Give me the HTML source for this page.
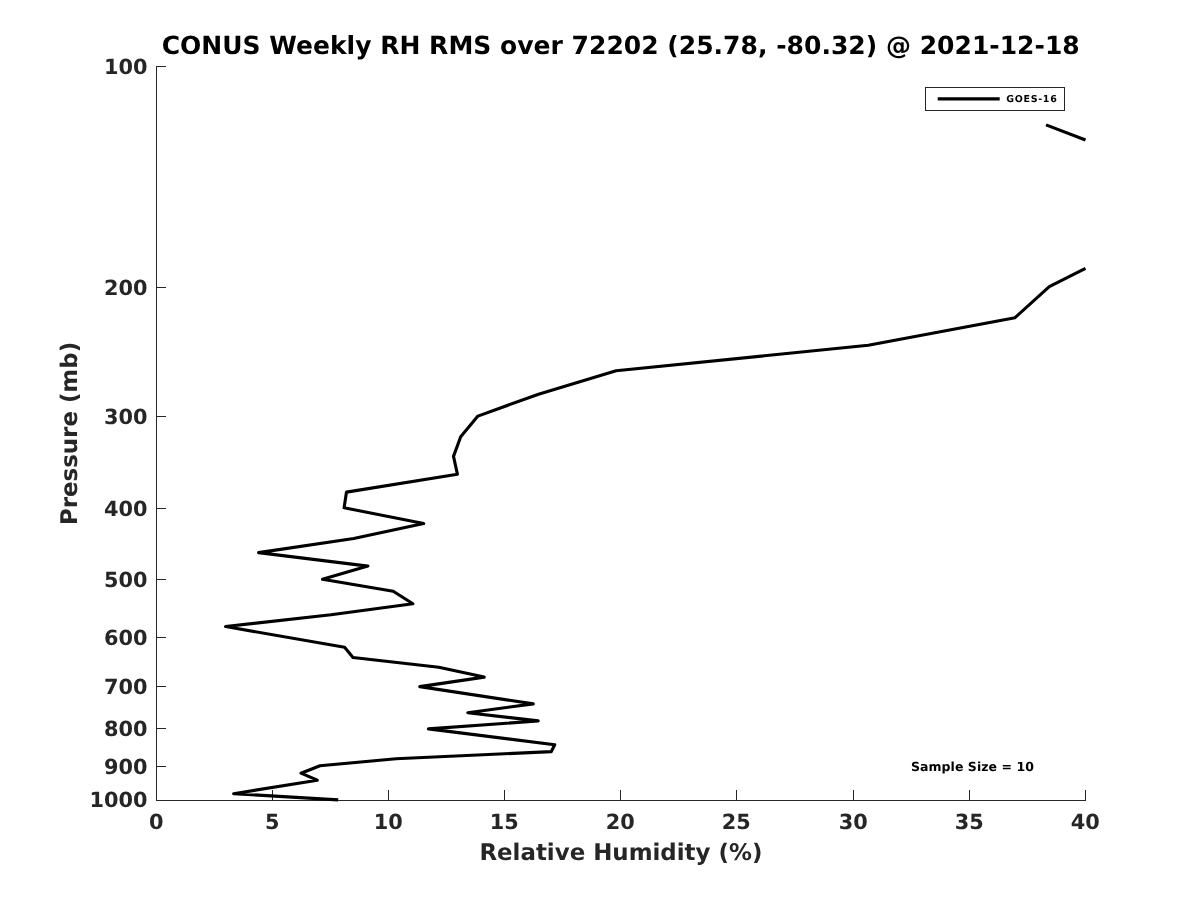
<!DOCTYPE html>
<html lang="en"><head><meta charset="utf-8"><title>CONUS Weekly RH RMS</title>
<style>
html,body{margin:0;padding:0;background:#fff;}
body{width:1200px;height:900px;overflow:hidden;}
svg{display:block;}
text{font-family:'DejaVu Sans','Liberation Sans',sans-serif;font-weight:bold;text-rendering:geometricPrecision;}
.tk{font-size:20.83px;fill:#262626;}
.lb{font-size:22.92px;fill:#262626;}
.tt{font-size:25px;fill:#000;letter-spacing:0.017px;}
.sm{font-size:12.5px;fill:#000;letter-spacing:0.05px;}
.lg{font-size:9.5px;fill:#000;letter-spacing:0.7px;}
</style></head><body>
<svg width="1200" height="900" viewBox="0 0 1200 900">
<rect x="0" y="0" width="1200" height="900" fill="#ffffff"/>

<g stroke="#262626" stroke-width="1" fill="none" shape-rendering="crispEdges">
<line x1="156.5" y1="66.0" x2="156.5" y2="801.0"/>
<line x1="156.0" y1="800.5" x2="1086.0" y2="800.5"/>
<line x1="156.5" y1="800.5" x2="156.5" y2="790.0"/>
<line x1="272.5" y1="800.5" x2="272.5" y2="790.0"/>
<line x1="388.5" y1="800.5" x2="388.5" y2="790.0"/>
<line x1="504.5" y1="800.5" x2="504.5" y2="790.0"/>
<line x1="620.5" y1="800.5" x2="620.5" y2="790.0"/>
<line x1="736.5" y1="800.5" x2="736.5" y2="790.0"/>
<line x1="853.5" y1="800.5" x2="853.5" y2="790.0"/>
<line x1="969.5" y1="800.5" x2="969.5" y2="790.0"/>
<line x1="1085.5" y1="800.5" x2="1085.5" y2="790.0"/>
<line x1="156.5" y1="66.5" x2="166.0" y2="66.5"/>
<line x1="156.5" y1="287.5" x2="166.0" y2="287.5"/>
<line x1="156.5" y1="416.5" x2="166.0" y2="416.5"/>
<line x1="156.5" y1="508.5" x2="166.0" y2="508.5"/>
<line x1="156.5" y1="579.5" x2="166.0" y2="579.5"/>
<line x1="156.5" y1="637.5" x2="166.0" y2="637.5"/>
<line x1="156.5" y1="686.5" x2="166.0" y2="686.5"/>
<line x1="156.5" y1="728.5" x2="166.0" y2="728.5"/>
<line x1="156.5" y1="766.5" x2="166.0" y2="766.5"/>
<line x1="156.5" y1="800.5" x2="166.0" y2="800.5"/>
</g>
<text class="tk" x="156.3" y="829.0" text-anchor="middle">0</text>
<text class="tk" x="272.3" y="829.0" text-anchor="middle">5</text>
<text class="tk" x="388.3" y="829.0" text-anchor="middle">10</text>
<text class="tk" x="504.3" y="829.0" text-anchor="middle">15</text>
<text class="tk" x="620.3" y="829.0" text-anchor="middle">20</text>
<text class="tk" x="736.3" y="829.0" text-anchor="middle">25</text>
<text class="tk" x="853.3" y="829.0" text-anchor="middle">30</text>
<text class="tk" x="969.3" y="829.0" text-anchor="middle">35</text>
<text class="tk" x="1085.3" y="829.0" text-anchor="middle">40</text>
<text class="tk" x="147.5" y="73.9" text-anchor="end">100</text>
<text class="tk" x="147.5" y="294.9" text-anchor="end">200</text>
<text class="tk" x="147.5" y="423.9" text-anchor="end">300</text>
<text class="tk" x="147.5" y="515.9" text-anchor="end">400</text>
<text class="tk" x="147.5" y="586.9" text-anchor="end">500</text>
<text class="tk" x="147.5" y="644.9" text-anchor="end">600</text>
<text class="tk" x="147.5" y="693.9" text-anchor="end">700</text>
<text class="tk" x="147.5" y="735.9" text-anchor="end">800</text>
<text class="tk" x="147.5" y="773.9" text-anchor="end">900</text>
<text class="tk" x="147.5" y="806.9" text-anchor="end">1000</text>
<text class="tt" x="620.7" y="54" text-anchor="middle">CONUS Weekly RH RMS over 72202 (25.78, -80.32) @ 2021-12-18</text>
<text class="lb" x="620.9" y="860" text-anchor="middle">Relative Humidity (%)</text>
<text class="lb" transform="translate(77.4,433.5) rotate(-90)" text-anchor="middle">Pressure (mb)</text>
<text class="sm" x="911" y="771">Sample Size = 10</text>
<g stroke="#000" stroke-width="3.1" fill="none" stroke-linejoin="round" stroke-linecap="butt">
<path d="M338.2,799.9 L233.6,793.7 L317.3,780.2 L301.0,773.2 L320.0,765.8 L396.0,758.7 L551.3,751.6 L554.7,744.7 L428.4,728.9 L538.2,720.9 L467.8,712.7 L533.3,703.9 L419.8,686.6 L484.2,677.1 L438.7,667.3 L353.0,657.5 L344.6,647.3 L225.6,626.5 L331.0,614.8 L412.9,603.8 L393.2,591.3 L322.5,579.3 L367.9,566.1 L258.6,552.6 L353.7,538.5 L423.7,523.6 L344.1,507.8 L346.5,492.1 L457.4,474.2 L453.5,456.4 L460.7,436.8 L477.9,416.1 L538.5,394.2 L616.1,370.8 L868.3,345.3 L1015.0,317.7 L1049.3,286.7 L1085.5,268.3"/>
<path d="M1046.0,124.9 L1085.5,140.0"/>
</g>
<rect x="925.5" y="87.5" width="139" height="23" fill="#fff" stroke="#262626" stroke-width="1" shape-rendering="crispEdges"/>
<line x1="937.7" y1="98.9" x2="999.7" y2="98.9" stroke="#000" stroke-width="3.1"/>
<text class="lg" x="1006.2" y="101.8">GOES-16</text>
</svg>
</body></html>
